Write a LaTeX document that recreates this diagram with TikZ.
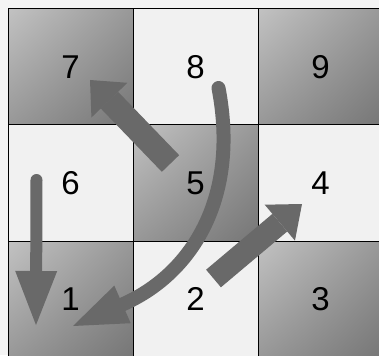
\documentclass[tikz,border=0pt]{standalone}
\usepackage{fontspec}
\setmainfont{Liberation Sans}
\usetikzlibrary{arrows.meta,shadings}
\definecolor{bg}{HTML}{F4F4F4}
\definecolor{lightcell}{HTML}{F1F1F1}
\definecolor{arrowgray}{HTML}{696969}
\definecolor{shA}{RGB}{194,194,194}
\definecolor{shB}{RGB}{152,152,152}
\definecolor{shC}{RGB}{118,118,118}
\begin{document}
\begin{tikzpicture}[x=1pt,y=-1pt,
  cell/.style={draw=black, line width=1pt, minimum width=125pt, minimum height=116pt,
    inner sep=0pt, outer sep=0pt, font=\fontsize{33}{33}\selectfont, anchor=center},
  lightc/.style={cell, fill=lightcell},
  darkc/.style={cell, upper left=shA, upper right=shB, lower left=shB, lower right=shC},
  fatarrow/.style={draw=arrowgray, line width=#1},
]
\useasboundingbox (0,0) rectangle (379,355);
\clip (0,0) rectangle (379,355);
\fill[bg] (0,0) rectangle (379,355);
% cells
\node[darkc]  (c7) at (70.5,67)  {7};
\node[lightc] (c8) at (195.5,67) {8};
\node[darkc]  (c9) at (320.5,67) {9};
\node[lightc] (c6) at (70.5,183)  {6};
\node[darkc]  (c5) at (195.5,183) {5};
\node[lightc] (c4) at (320.5,183) {4};
\node[darkc]  (c1) at (70.5,299)  {1};
\node[lightc] (c2) at (195.5,299) {2};
\node[darkc]  (c3) at (320.5,299) {3};
% arrow end points
\coordinate (a1s) at (170.5,163.5);
\coordinate (a1e) at (90,80);
\coordinate (a2s) at (36.5,180);
\coordinate (a2e) at (36,325);
\coordinate (a3s) at (213.5,278.5);
\coordinate (a3e) at (302,204);
\coordinate (a4s) at (218.5,88);
\coordinate (a4e) at (73,326);
% arrows
\draw[fatarrow=24pt, -{Triangle[width=50pt,length=28pt,line width'=0pt]}] (a1s) -- (a1e);
\draw[fatarrow=12pt, line cap=round, -{Triangle[width=42pt,length=54pt,line width'=0pt]}] (a2s) -- (a2e);
\draw[fatarrow=23pt, -{Triangle[width=47pt,length=29pt,line width'=0pt]}] (a3s) -- (a3e);
\draw[fatarrow=14pt, line cap=round, -{Triangle[width=41pt,length=54pt,line width'=0pt]}]
  (a4s) .. controls (240,200) and (190,275) .. (a4e);
\end{tikzpicture}
\end{document}
